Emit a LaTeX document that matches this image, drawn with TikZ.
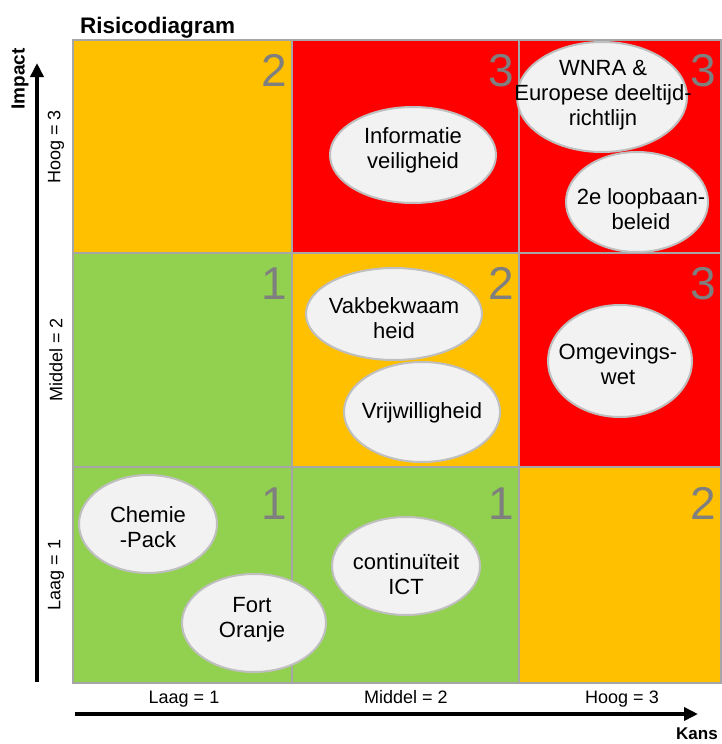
\documentclass[tikz,border=0pt]{standalone}
\usepackage{fontspec}
\setmainfont{Liberation Sans}
\usetikzlibrary{shapes.geometric,arrows.meta}
\definecolor{riskorange}{HTML}{FFC000}
\definecolor{riskred}{HTML}{FF0000}
\definecolor{riskgreen}{HTML}{92D050}
\definecolor{gridgray}{HTML}{A6A6A6}
\definecolor{bubblefill}{HTML}{F2F2F2}
\definecolor{bubbleedge}{HTML}{BFBFBF}
\definecolor{numgray}{HTML}{7F7F7F}
\begin{document}
\begin{tikzpicture}[x=1pt,y=-1pt,
  gridline/.style={draw=gridgray, line width=2pt},
  bubble/.style={ellipse, draw=bubbleedge, fill=bubblefill, line width=2pt, inner sep=0pt},
  btext/.style={align=center, inner sep=0pt, font=\fontsize{22}{25}\selectfont, text=black},
  num/.style={anchor=base east, inner sep=0pt, font=\fontsize{46}{46}\selectfont, text=numgray},
  axlab/.style={inner sep=0pt, font=\fontsize{18}{18}\selectfont},
  axtitle/.style={inner sep=0pt, font=\bfseries\fontsize{17}{17}\selectfont},
  axisarrow/.style={line width=4pt, -{Triangle[length=14pt,width=13pt]}}]
\useasboundingbox (0,0) rectangle (722,744);

% cells
\fill[riskorange] (73,40) rectangle (292,253);
\fill[riskred]    (292,40) rectangle (519,253);
\fill[riskred]    (519,40) rectangle (722,253);
\fill[riskgreen]  (73,253) rectangle (292,467);
\fill[riskorange] (292,253) rectangle (519,467);
\fill[riskred]    (519,253) rectangle (722,467);
\fill[riskgreen]  (73,467) rectangle (292,683);
\fill[riskgreen]  (292,467) rectangle (519,683);
\fill[riskorange] (519,467) rectangle (722,683);

% grid
\draw[gridline] (73,40) rectangle (721,683);
\draw[gridline] (292,40) -- (292,683);
\draw[gridline] (519,40) -- (519,683);
\draw[gridline] (73,253) -- (721,253);
\draw[gridline] (73,467) -- (721,467);

% cell scores
\node[num] (n11) at (287,86) {2};
\node[num] (n12) at (514,86) {3};
\node[num] (n13) at (716,86) {3};
\node[num] (n21) at (287,299) {1};
\node[num] (n22) at (514,299) {2};
\node[num] (n23) at (716,299) {3};
\node[num] (n31) at (287,519) {1};
\node[num] (n32) at (514,519) {1};
\node[num] (n33) at (716,519) {2};

% bubbles
\node[bubble, minimum width=166pt, minimum height=96pt] (info) at (413,155) {};
\node[btext] (infot) at (413,150) {Informatie\\veiligheid};

\node[bubble, minimum width=170pt, minimum height=110pt] (wnra) at (602,97) {};
\node[btext] (wnrat) at (603,95) {WNRA \&\\Europese deeltijd-\\richtlijn};

\node[bubble, minimum width=142pt, minimum height=100pt] (loop) at (637,202) {};
\node[btext] (loopt) at (641,209) {2e loopbaan-\\beleid};

\node[bubble, minimum width=176pt, minimum height=92pt] (vak) at (394,314) {};
\node[btext] (vakt) at (394,318) {Vakbekwaam\\heid};

\node[bubble, minimum width=156pt, minimum height=100pt] (vrij) at (422,412) {};
\node[btext] (vrijt) at (422,413) {Vrijwilligheid};

\node[bubble, minimum width=144pt, minimum height=112pt] (omg) at (620,361) {};
\node[btext] (omgt) at (618,364) {Omgevings-\\wet};

\node[bubble, minimum width=138pt, minimum height=98pt] (chem) at (148,524) {};
\node[btext] (chemt) at (148,527) {Chemie\\-Pack};

\node[bubble, minimum width=144pt, minimum height=98pt] (fort) at (254,623) {};
\node[btext] (fortt) at (252,620) {Fort\\Oranje};

\node[bubble, minimum width=148pt, minimum height=98pt] (ict) at (406,566) {};
\node[btext] (ictt) at (406,574) {continuïteit\\ICT};

% title
\node[anchor=base west, inner sep=0pt, font=\bfseries\fontsize{22.5}{22.5}\selectfont] (title) at (80,33) {Risicodiagram};

% axes
\coordinate (ybot) at (37,682);
\coordinate (ytop) at (37,63);
\draw[axisarrow] (ybot) -- (ytop);
\coordinate (xleft) at (75,714);
\coordinate (xright) at (698,714);
\draw[axisarrow] (xleft) -- (xright);

\node[axtitle, rotate=90, font=\bfseries\fontsize{19}{19}\selectfont] (impact) at (20,79) {Impact};
\node[axtitle, anchor=base] (kans) at (697,739) {Kans};

\node[axlab, rotate=90] (yl3) at (56,147) {Hoog = 3};
\node[axlab, rotate=90] (yl2) at (56,360) {Middel = 2};
\node[axlab, rotate=90] (yl1) at (56,575) {Laag = 1};

\node[axlab, anchor=base] (xl1) at (184,703) {Laag = 1};
\node[axlab, anchor=base] (xl2) at (406,703) {Middel = 2};
\node[axlab, anchor=base] (xl3) at (622,703) {Hoog = 3};
\end{tikzpicture}
\end{document}
